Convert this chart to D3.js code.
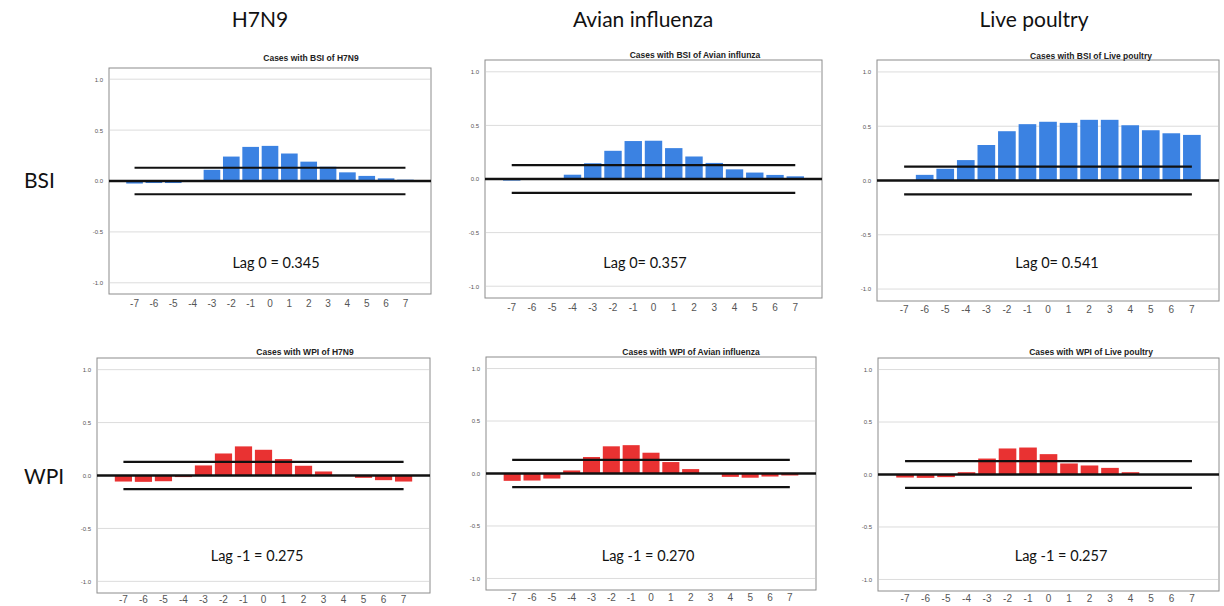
<!DOCTYPE html>
<html>
  <head>
    <meta charset="utf-8">
    <title>Cross-correlation of cases with BSI and WPI</title>
    <script src="https://d3js.org/d3.v7.min.js"></script>
    <style>
      body { margin: 0; background: #fff; }
      .header { font-family: Lato, sans-serif; font-size: 21px; fill: #111; }
      .title { font-family: "Liberation Sans", Arial, sans-serif; font-size: 8.5px; font-weight: bold; fill: #222; }
      .lag { font-family: Lato, sans-serif; font-size: 14.5px; fill: #111; }
      .xaxis text { font-family: "Liberation Sans", Arial, sans-serif; font-size: 10px; fill: #555; }
      .yaxis text { font-family: "Liberation Sans", Arial, sans-serif; font-size: 6px; fill: #555; }
    </style>
  </head>
  <body>
    <svg id="svg" width="1224" height="606"></svg>
    <script>
      // data
      var lags = [-7, -6, -5, -4, -3, -2, -1, 0, 1, 2, 3, 4, 5, 6, 7];
      var columns = ["H7N9", "Avian influenza", "Live poultry"];
      var rows = ["BSI", "WPI"];
      var titles = ["Cases with BSI of H7N9", "Cases with BSI of Avian influnza", "Cases with BSI of Live poultry",
                    "Cases with WPI of H7N9", "Cases with WPI of Avian influenza", "Cases with WPI of Live poultry"];
      var lagNotes = ["Lag 0 = 0.345", "Lag 0= 0.357", "Lag 0= 0.541",
                      "Lag -1 = 0.275", "Lag -1 = 0.270", "Lag -1 = 0.257"];
      var bsiH7N9 = [-0.025, -0.02, -0.02, 0.005, 0.11, 0.24, 0.335, 0.345, 0.27, 0.19, 0.14, 0.085, 0.05, 0.026, 0.013];
      var bsiAvian = [-0.015, -0.004, 0, 0.04, 0.147, 0.263, 0.354, 0.357, 0.288, 0.21, 0.15, 0.09, 0.06, 0.038, 0.025];
      var bsiPoultry = [0, 0.052, 0.108, 0.188, 0.327, 0.454, 0.519, 0.541, 0.531, 0.559, 0.559, 0.509, 0.463, 0.435, 0.42];
      var wpiH7N9 = [-0.057, -0.06, -0.054, -0.015, 0.095, 0.208, 0.275, 0.243, 0.155, 0.092, 0.038, 0, -0.022, -0.044, -0.057];
      var wpiAvian = [-0.07, -0.067, -0.048, 0.029, 0.157, 0.259, 0.27, 0.198, 0.109, 0.042, 0, -0.032, -0.04, -0.029, -0.019];
      var wpiPoultry = [-0.029, -0.032, -0.025, 0.022, 0.152, 0.248, 0.257, 0.194, 0.105, 0.086, 0.063, 0.022, 0, 0, 0];
      var series = [bsiH7N9, bsiAvian, bsiPoultry, wpiH7N9, wpiAvian, wpiPoultry];
      var limits = [0.13, 0.13, 0.127, 0.128, 0.13, 0.127];
      var yTicks = [-1, -0.5, 0, 0.5, 1];

      // panel boxes and text anchors
      var boxes = [
        {l: 109, t: 68, r: 431, b: 294, tx: 311, ty: 61, lx: 276, ly: 268, pad: 6},
        {l: 485, t: 60, r: 822, b: 298, tx: 695, ty: 57.5, lx: 645, ly: 268, pad: 6},
        {l: 877, t: 60, r: 1219, b: 301, tx: 1091, ty: 58.5, lx: 1057, ly: 268, pad: 5},
        {l: 97, t: 358, r: 430, b: 593, tx: 305, ty: 355, lx: 257, ly: 561, pad: 3},
        {l: 486, t: 357, r: 816, b: 590, tx: 691, ty: 355, lx: 648, ly: 561, pad: 4},
        {l: 878, t: 358, r: 1219, b: 591, tx: 1091, ty: 355, lx: 1061, ly: 561, pad: 4}
      ];
      var headerX = [260, 643, 1034];
      var rowY = [188, 484];
      var colours = ["#3b82e2", "#e93232"];

      var svg = d3.select("#svg");

      svg.selectAll(".header")
          .data(columns)
        .enter().append("text")
          .attr("class", "header")
          .attr("x", function(d, i) { return headerX[i]; })
          .attr("y", 27)
          .attr("text-anchor", "middle")
          .text(function(d) { return d; });

      svg.selectAll(".rowlabel")
          .data(rows)
        .enter().append("text")
          .attr("class", "header rowlabel")
          .attr("x", 24)
          .attr("y", function(d, i) { return rowY[i]; })
          .text(function(d) { return d; });

      series.forEach(function(values, i) {
        var box = boxes[i];
        var colour = colours[Math.floor(i / 3)];
        var g = svg.append("g");

        var x = d3.scaleBand()
          .domain(lags)
          .range([box.l, box.r])
          .paddingInner(0.14)
          .paddingOuter(0.89);
        var y = d3.scaleLinear()
          .domain([-1.11, 1.11])
          .range([box.b, box.t]);

        // box
        g.append("rect")
          .attr("x", box.l).attr("y", box.t)
          .attr("width", box.r - box.l).attr("height", box.b - box.t)
          .attr("fill", "#fff").attr("stroke", "#8c8c8c").attr("stroke-width", 1);

        // gridlines
        g.selectAll(".grid")
            .data(yTicks.filter(function(d) { return d !== 0; }))
          .enter().append("line")
            .attr("x1", box.l + 1).attr("x2", box.r - 1)
            .attr("y1", function(d) { return y(d); })
            .attr("y2", function(d) { return y(d); })
            .attr("stroke", "#dcdcdc").attr("stroke-width", 1);

        // bars
        g.selectAll(".bar")
            .data(values)
          .enter().append("rect")
            .attr("x", function(d, j) { return x(lags[j]); })
            .attr("width", x.bandwidth())
            .attr("y", function(d) { return y(Math.max(0, d)); })
            .attr("height", function(d) { return Math.abs(y(d) - y(0)); })
            .attr("fill", colour);

        // confidence limits
        g.selectAll(".limit")
            .data([limits[i], -limits[i]])
          .enter().append("line")
            .attr("x1", x(lags[0]) + x.bandwidth() / 2)
            .attr("x2", x(lags[lags.length - 1]) + x.bandwidth() / 2)
            .attr("y1", function(d) { return y(d); })
            .attr("y2", function(d) { return y(d); })
            .attr("stroke", "#111").attr("stroke-width", 2.2);

        // zero line
        g.append("line")
          .attr("x1", box.l).attr("x2", box.r)
          .attr("y1", y(0)).attr("y2", y(0))
          .attr("stroke", "#111").attr("stroke-width", 2.6);

        // axes
        g.append("g")
          .attr("class", "xaxis")
          .attr("transform", "translate(0," + box.b + ")")
          .call(d3.axisBottom(x).tickSize(0).tickPadding(box.pad))
          .call(function(a) { a.select(".domain").remove(); });
        g.append("g")
          .attr("class", "yaxis")
          .attr("transform", "translate(" + box.l + ",0)")
          .call(d3.axisLeft(y).tickValues(yTicks).tickSize(0).tickPadding(6)
            .tickFormat(function(d) { return d.toFixed(1); }))
          .call(function(a) { a.select(".domain").remove(); });

        g.append("text")
          .attr("class", "title")
          .attr("x", box.tx).attr("y", box.ty)
          .attr("text-anchor", "middle")
          .text(titles[i]);

        g.append("text")
          .attr("class", "lag")
          .attr("x", box.lx).attr("y", box.ly)
          .attr("text-anchor", "middle")
          .text(lagNotes[i]);
      });
    </script>
  </body>
</html>
